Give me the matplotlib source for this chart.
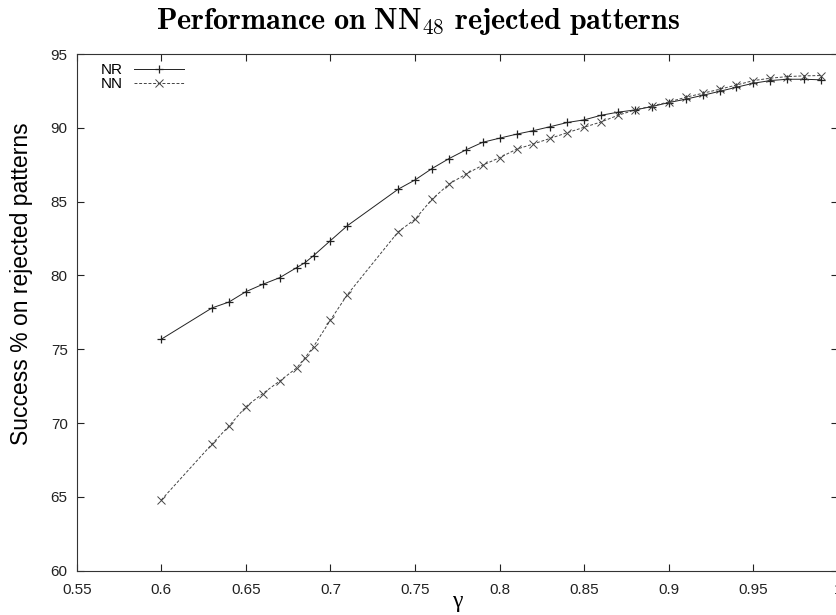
import matplotlib
matplotlib.use("Agg")
import matplotlib.pyplot as plt

plt.rcParams['mathtext.fontset'] = 'cm'
plt.rcParams['font.family'] = ['Liberation Sans', 'DejaVu Sans']

gamma = [0.60, 0.63, 0.64, 0.65, 0.66, 0.67, 0.68, 0.685, 0.69, 0.70, 0.71,
         0.74, 0.75, 0.76, 0.77, 0.78, 0.79, 0.80, 0.81, 0.82, 0.83, 0.84,
         0.85, 0.86, 0.87, 0.88, 0.89, 0.90, 0.91, 0.92, 0.93, 0.94, 0.95,
         0.96, 0.97, 0.98, 0.99]
nr = [75.68, 77.8, 78.2, 78.9, 79.4, 79.85, 80.53, 80.87, 81.34, 82.36, 83.37,
      85.84, 86.47, 87.24, 87.91, 88.5, 89.02, 89.3, 89.57, 89.81, 90.08, 90.36,
      90.54, 90.85, 91.06, 91.21, 91.44, 91.71, 91.94, 92.2, 92.47, 92.75, 93.02,
      93.2, 93.29, 93.29, 93.25]
nn = [64.79, 68.58, 69.8, 71.11, 72.0, 72.85, 73.73, 74.43, 75.18, 76.98, 78.7,
      82.95, 83.81, 85.16, 86.18, 86.86, 87.47, 87.98, 88.55, 88.91, 89.29, 89.67,
      90.04, 90.40, 90.85, 91.21, 91.48, 91.75, 92.07, 92.34, 92.61, 92.9, 93.2,
      93.36, 93.47, 93.52, 93.54]

xticks = [0.55, 0.6, 0.65, 0.7, 0.75, 0.8, 0.85, 0.9, 0.95, 1.0]
xticklabels = ['0.55', '0.6', '0.65', '0.7', '0.75', '0.8', '0.85', '0.9', '0.95', '1']
yticks = [60, 65, 70, 75, 80, 85, 90, 95]

fig = plt.figure(figsize=(8.36, 6.15), dpi=100)
ax = fig.add_axes([76.7/836, 44.3/615, (838-76.7)/836, (570.7-54)/615])

ax.plot(gamma, nr, color='#222222', linewidth=0.7, marker='+', markersize=6,
        markeredgewidth=0.9, label='NR')
ax.plot(gamma, nn, color='#444444', linewidth=0.7, linestyle=(0, (3, 1.8)),
        marker='x', markersize=5.5, markeredgewidth=0.7, label='NN')

ax.set_xlim(0.55, 1.0)
ax.set_ylim(60, 95)
ax.set_xticks(xticks)
ax.set_xticklabels(xticklabels)
ax.set_yticks(yticks)
ax.tick_params(direction='in', top=True, right=True, length=5, width=0.8,
               labelsize=11, colors='#222222')
ax.tick_params(axis='x', pad=8.5)
ax.tick_params(axis='y', pad=6.5)
for s in ax.spines.values():
    s.set_linewidth(0.8)
    s.set_color('#333333')

ax.set_ylabel('Success % on rejected patterns', fontsize=16.5)
ax.yaxis.set_label_coords(-0.058, 0.555)
ax.set_xlabel('γ', fontsize=17, family=['Liberation Serif', 'DejaVu Serif'])
ax.xaxis.set_label_coords(0.5, -0.040)

fig.text(0.5, 0.965, r'$\mathbf{Performance\ on\ NN_{48}\ rejected\ patterns}$',
         ha='center', va='center', fontsize=21.7)

ax.legend(loc='upper left', frameon=False, markerfirst=False, fontsize=11,
          handlelength=3.3, handletextpad=0.7, labelspacing=0.0,
          borderaxespad=0.2, bbox_to_anchor=(0.02, 1.0))

fig.savefig('out.png', dpi=100)
